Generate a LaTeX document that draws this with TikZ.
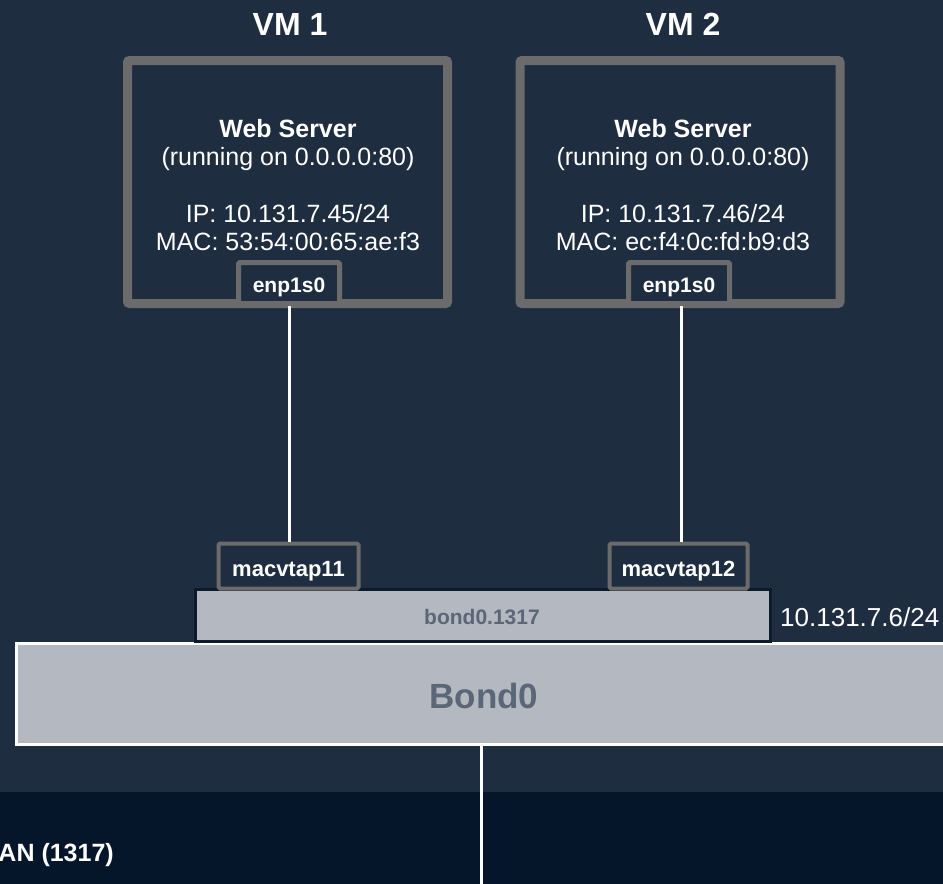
\documentclass[tikz,border=0pt]{standalone}
\usepackage{fontspec}
\setmainfont{Liberation Sans}
\definecolor{bgc}{HTML}{1F2D41}
\definecolor{bandc}{HTML}{06162A}
\definecolor{framec}{HTML}{6B6B6B}
\definecolor{boxc}{HTML}{B4B9C1}
\definecolor{graytxt}{HTML}{5B6676}
\definecolor{navyc}{HTML}{0C1A2C}
\tikzset{
  vmframe/.style={draw=framec, line width=9pt, fill=bgc, rounded corners=2pt, minimum width=320pt, minimum height=243pt, inner sep=0pt},
  ifbox/.style={draw=framec, line width=5pt, fill=bgc, rounded corners=1.5pt, inner sep=0pt},
  wt/.style={text=white, inner sep=0pt, anchor=base},
  link/.style={draw=white, line width=3pt},
}
\begin{document}
\begin{tikzpicture}[x=1pt,y=-1pt]
\useasboundingbox (0,0) rectangle (943,884);
\fill[bgc] (0,0) rectangle (943,884);
\fill[bandc] (0,792) rectangle (943,884);
% VM frames
\node[vmframe] (vm1) at (287.5,182) {};
\node[vmframe] (vm2) at (680,182) {};
\node[wt, font=\fontsize{32}{36}\selectfont\bfseries] (t1) at (290,35) {VM 1};
\node[wt, font=\fontsize{32}{36}\selectfont\bfseries] (t2) at (683,35) {VM 2};
% VM1 texts
\node[wt, font=\fontsize{25}{29}\selectfont\bfseries] (ws1) at (288,137) {Web Server};
\node[wt, font=\fontsize{25}{29}\selectfont] (run1) at (288,165) {(running on 0.0.0.0:80)};
\node[wt, font=\fontsize{25}{29}\selectfont] (ip1) at (288,222) {IP: 10.131.7.45/24};
\node[wt, font=\fontsize{25}{29}\selectfont] (mac1) at (288,250) {MAC: 53:54:00:65:ae:f3};
% VM2 texts
\node[wt, font=\fontsize{25}{29}\selectfont\bfseries] (ws2) at (683,137) {Web Server};
\node[wt, font=\fontsize{25}{29}\selectfont] (run2) at (683,165) {(running on 0.0.0.0:80)};
\node[wt, font=\fontsize{25}{29}\selectfont] (ip2) at (683,222) {IP: 10.131.7.46/24};
\node[wt, font=\fontsize{25}{29}\selectfont] (mac2) at (683,250) {MAC: ec:f4:0c:fd:b9:d3};
% interface boxes
\node[ifbox, minimum width=101pt, minimum height=41pt] (enp1) at (289,283) {};
\node[ifbox, minimum width=101pt, minimum height=41pt] (enp2) at (679,283) {};
\node[wt, font=\fontsize{21}{24}\selectfont\bfseries] (enpt1) at (289,292) {enp1s0};
\node[wt, font=\fontsize{21}{24}\selectfont\bfseries] (enpt2) at (679,292) {enp1s0};
% bond0
\node[draw=white, line width=3pt, fill=boxc, minimum width=940pt, minimum height=101pt, anchor=north west, inner sep=0pt] (bond0) at (15,642) {};
\node[text=graytxt, inner sep=0pt, anchor=base, font=\fontsize{35}{40}\selectfont\bfseries] (bond0t) at (484,708) {Bond0};
% bond0.1317
\node[draw=navyc, line width=3pt, fill=boxc, minimum width=575pt, minimum height=52pt, anchor=north west, inner sep=0pt] (bondv) at (194,588) {};
\node[text=graytxt, inner sep=0pt, anchor=base, font=\fontsize{21}{25}\selectfont\bfseries] (bondvt) at (482,624) {bond0.1317};
\node[wt, anchor=base west, font=\fontsize{26}{30}\selectfont] (bip) at (780,626) {10.131.7.6/24};
% macvtaps
\node[ifbox, line width=4pt, minimum width=140pt, minimum height=45pt] (mv1) at (288.5,566) {};
\node[ifbox, line width=4pt, minimum width=138pt, minimum height=45pt] (mv2) at (678.5,566) {};
\node[wt, font=\fontsize{22}{26}\selectfont\bfseries] (mvt1) at (288.5,576) {macvtap11};
\node[wt, font=\fontsize{22}{26}\selectfont\bfseries] (mvt2) at (678.5,576) {macvtap12};
% links
\draw[link] (289,306) -- (mv1.north -| 289,0);
\draw[link] (681,306) -- (mv2.north -| 681,0);
\coordinate (down) at (481,884);
\draw[link] (bond0.south -| down) -- (down);
% vlan label
\node[wt, anchor=base east, font=\fontsize{25}{29}\selectfont\bfseries] (vlan) at (114,861) {AN (1317)};
\end{tikzpicture}
\end{document}
